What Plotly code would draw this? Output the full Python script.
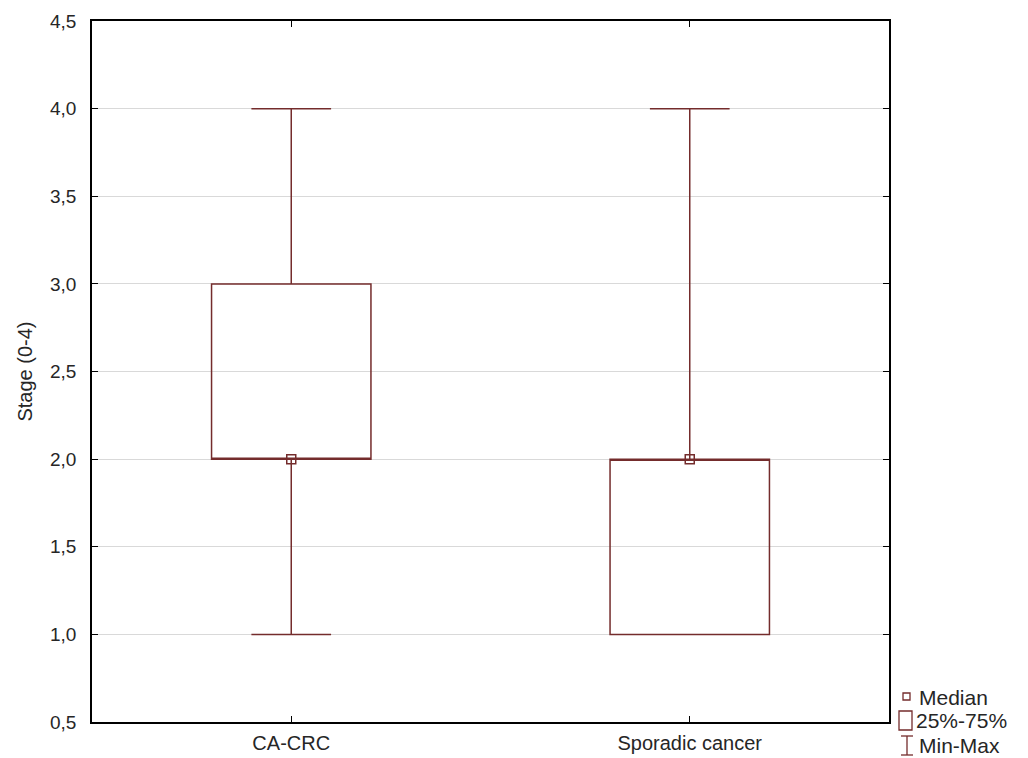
import plotly.graph_objects as go

# ---- data ----
categories = ["CA-CRC", "Sporadic cancer"]
minimum = [1.0, 1.0]
q1 = [2.0, 1.0]
median = [2.0, 2.0]
q3 = [3.0, 2.0]
maximum = [4.0, 4.0]
y_ticks = [0.5, 1.0, 1.5, 2.0, 2.5, 3.0, 3.5, 4.0, 4.5]
legend_labels = ["Median", "25%-75%", "Min-Max"]

OFF = 8  # default body margin of the html page
PAGE_W, PAGE_H = 1028, 758
W, H = PAGE_W - OFF, PAGE_H - OFF
L, R, T, B = 92, 889, 21, 722  # plot area in page pixels
COL = "#742c2c"
TXT = "#262626"
FONT = "Liberation Sans, Arial, sans-serif"

fig = go.Figure()
fig.add_trace(go.Box(
    x=categories, q1=q1, median=median, q3=q3,
    lowerfence=minimum, upperfence=maximum,
    width=0.4, whiskerwidth=0.5,
    line=dict(color=COL, width=1.5),
    fillcolor="rgba(255,255,255,0)",
    boxpoints=False, hoverinfo="skip", showlegend=False,
))
fig.add_trace(go.Scatter(
    x=categories, y=median, mode="markers",
    marker=dict(symbol="square-open", size=9, color=COL, line=dict(width=1.5, color=COL)),
    showlegend=False, hoverinfo="skip",
))

def px(p):
    return (p - L) / (R - L)

def py(p):
    return (B - p) / (B - T)

shapes = []
# legend: median square
shapes.append(dict(type="rect", xref="paper", yref="paper",
                   x0=px(903), x1=px(910), y0=py(700), y1=py(693),
                   line=dict(color=COL, width=1.3)))
# legend: box
shapes.append(dict(type="rect", xref="paper", yref="paper",
                   x0=px(899), x1=px(912), y0=py(730), y1=py(711),
                   line=dict(color=COL, width=1.3)))
# legend: whisker I-beam
shapes.append(dict(type="line", xref="paper", yref="paper",
                   x0=px(907), x1=px(907), y0=py(736), y1=py(755),
                   line=dict(color=COL, width=1.3)))
shapes.append(dict(type="line", xref="paper", yref="paper",
                   x0=px(901), x1=px(913), y0=py(736), y1=py(736),
                   line=dict(color=COL, width=1.3)))
shapes.append(dict(type="line", xref="paper", yref="paper",
                   x0=px(901), x1=px(913), y0=py(755), y1=py(755),
                   line=dict(color=COL, width=1.3)))

annotations = []
for lab, xl, yc in zip(legend_labels, [917, 914, 917], [697, 720, 745]):
    annotations.append(dict(text=lab, xref="paper", yref="paper",
                            x=px(xl), y=py(yc), xanchor="left", yanchor="middle",
                            showarrow=False, font=dict(family=FONT, size=21, color=TXT)))

fig.update_layout(
    width=W, height=H,
    margin=dict(l=L - OFF, r=PAGE_W - R, t=T - OFF, b=PAGE_H - B, autoexpand=False),
    paper_bgcolor="white", plot_bgcolor="white",
    separators=",.",
    shapes=shapes, annotations=annotations,
    showlegend=False,
)
fig.update_xaxes(
    range=[-0.5, 1.5], showline=True, linecolor="black", linewidth=1.5, mirror="ticks",
    ticks="inside", ticklen=6, tickcolor="black", showgrid=False, zeroline=False,
    tickfont=dict(family=FONT, size=20, color=TXT),
    ticklabelstandoff=2,
)
fig.update_yaxes(
    range=[0.5, 4.5], tickvals=y_ticks, tickformat=".1f",
    showline=True, linecolor="black", linewidth=1.5, mirror="ticks",
    ticks="inside", ticklen=6, tickcolor="black",
    showgrid=True, gridcolor="#d9d9d9", gridwidth=1, zeroline=False,
    tickfont=dict(family=FONT, size=19, color=TXT),
    ticklabelstandoff=10,
    title=dict(text="Stage (0-4)", font=dict(family=FONT, size=20, color=TXT), standoff=12),
)

fig.write_html("out.html")
